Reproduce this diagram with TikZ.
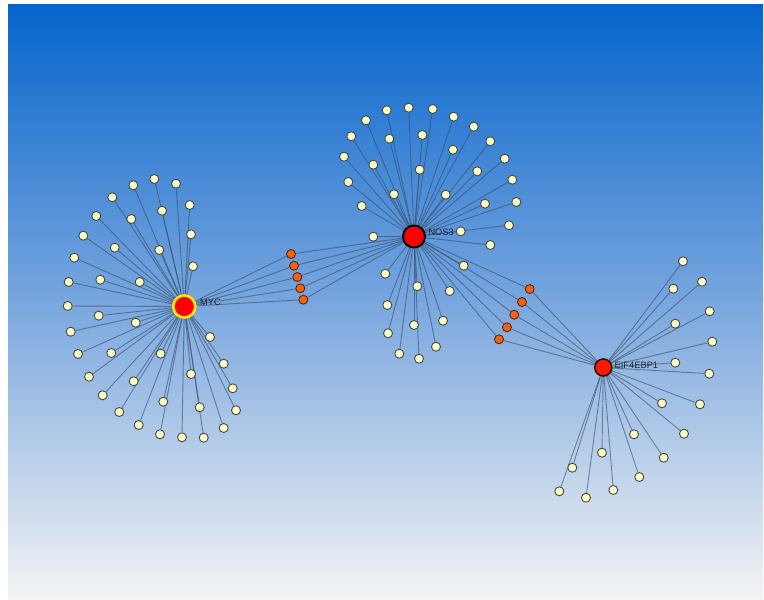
\documentclass[tikz,border=0pt]{standalone}
\usepackage{fontspec}
\setsansfont{Liberation Sans}
\pgfdeclarelayer{back}
\pgfdeclarelayer{edges}
\pgfsetlayers{back,edges,main}
\definecolor{leaffill}{RGB}{255,255,204}
\definecolor{leafline}{RGB}{70,75,60}
\definecolor{orangefill}{RGB}{242,98,18}
\definecolor{orangeline}{RGB}{90,40,20}
\definecolor{edgecol}{RGB}{55,75,105}
\definecolor{labcol}{RGB}{30,38,55}
\definecolor{bgtop}{RGB}{4,100,204}
\definecolor{bgmid}{RGB}{120,166,222}
\definecolor{bgbot}{RGB}{244,244,244}
\definecolor{mycring}{RGB}{255,228,0}
\definecolor{eiffill}{RGB}{255,25,0}
\definecolor{eifline}{RGB}{40,15,15}
\tikzset{
  leaf/.style={circle,fill=leaffill,draw=leafline,line width=0.9pt,minimum size=9pt,inner sep=0pt},
  bridge/.style={circle,fill=orangefill,draw=orangeline,line width=0.9pt,minimum size=9pt,inner sep=0pt},
  hubmyc/.style={circle,fill=red,draw=mycring,line width=2.6pt,minimum size=22pt,inner sep=0pt},
  hubnos/.style={circle,fill=red,draw=black,line width=2pt,minimum size=22pt,inner sep=0pt},
  hubeif/.style={circle,fill=eiffill,draw=eifline,line width=1.6pt,minimum size=17pt,inner sep=0pt},
  edge/.style={draw=edgecol,line width=0.9pt,opacity=0.6},
  hublabel/.style={anchor=base west,inner sep=0pt,text=labcol,font=\sffamily\fontsize{9.3}{10}\selectfont}
}
\begin{document}
\begin{tikzpicture}[x=1pt,y=-1pt]
\useasboundingbox (0,0) rectangle (764,600);
\begin{pgfonlayer}{back}
\fill[white] (0,0) rectangle (764,600);
\shade[top color=bgtop,bottom color=bgmid] (8,4) rectangle (763,300);
\shade[top color=bgmid,bottom color=bgbot] (8,299.5) rectangle (763,600);
\end{pgfonlayer}
% hubs
\node[hubmyc] (myc) at (184.3,306.5) {};
\node[hubnos] (nos) at (414,236.5) {};
\node[hubeif] (eif) at (603.3,367.5) {};
\node[hublabel] (lmyc) at (200,305.7) {MYC};
\node[hublabel] (lnos) at (428.3,235.7) {NOS3};
\node[hublabel] (leif) at (614.5,368.7) {EIF4EBP1};
% MYC leaves
\foreach \x/\y [count=\i] in {154.3/179,176/183.7,133.3/185.3,112.3/197.3,189.7/205,162/210.7,96.3/216,131.3/219,191/234.3,83.3/235.7,114.7/247.7,159.3/250,74.3/257.7,193/266.3,68.7/282,100.3/279.7,139.7/282,67.7/306,98.7/315.7,135.7/322.7,70.7/331.7,210/337,78/354,111.3/353,160.7/353.7,223.7/363.7,191/374,89/376.7,133.7/381.3,232.7/388.3,102.7/395.3,163.3/401.7,199.7/407.3,236/410.3,119.3/412,138.7/425,223.7/428,160/434.3,182/437.3,203.7/437.7}{
  \node[leaf] (m\i) at (\x,\y) {};
  \begin{pgfonlayer}{edges}\draw[edge] (myc) -- (m\i);\end{pgfonlayer}
}
% NOS3 leaves
\foreach \x/\y [count=\i] in {408.7/107.7,432.7/109,386.7/110.3,453.7/116.7,366/120.3,473.7/126.7,351.3/136.3,389.3/138.7,422.3/135,490.3/141.3,453/149.7,344/156.7,504.7/158.7,373.3/164.7,419.7/169.7,477.3/171.3,512.3/179.7,348.3/182,394/194.3,445.7/194.7,516.3/202,485/203.7,361.7/206,509/225.3,460.7/231.3,373.3/236.7,490.3/245,463.7/265.7,385.3/273.7,417.3/286.3,449.7/291,387.3/305,414/325,443/320.7,388/333.3,436/346.7,399.3/353.7,419/358.7}{
  \node[leaf] (n\i) at (\x,\y) {};
  \begin{pgfonlayer}{edges}\draw[edge] (nos) -- (n\i);\end{pgfonlayer}
}
% EIF4EBP1 leaves
\foreach \x/\y [count=\i] in {683/261.3,702/281.7,673.3/288.7,709.7/311.3,675.3/323.7,712.3/341.7,675.3/362.7,709.3/373.7,662/403.3,700/404.3,634/434.3,684/433.7,602/452.7,663.7/457.7,572.3/467.7,639.3/477,559.3/491.3,613.3/490,586/497.7}{
  \node[leaf] (e\i) at (\x,\y) {};
  \begin{pgfonlayer}{edges}\draw[edge] (eif) -- (e\i);\end{pgfonlayer}
}
% bridges MYC - NOS3
\foreach \x/\y [count=\i] in {291/254,294/265.7,297.3/277,300.3/288.3,303.3/299.7}{
  \node[bridge] (a\i) at (\x,\y) {};
  \begin{pgfonlayer}{edges}\draw[edge] (myc) -- (a\i) -- (nos);\end{pgfonlayer}
}
% bridges NOS3 - EIF4EBP1
\foreach \x/\y [count=\i] in {529.7/289,522/302,514.3/314.7,507/327.3,499/339.3}{
  \node[bridge] (b\i) at (\x,\y) {};
  \begin{pgfonlayer}{edges}\draw[edge] (nos) -- (b\i) -- (eif);\end{pgfonlayer}
}
\end{tikzpicture}
\end{document}
